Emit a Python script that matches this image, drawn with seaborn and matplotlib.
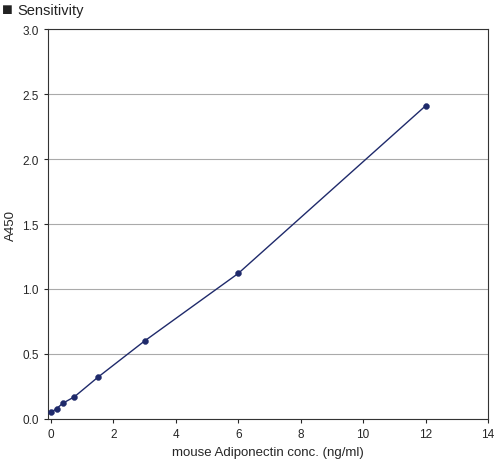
import matplotlib
matplotlib.use("Agg")
import matplotlib.pyplot as plt
import seaborn as sns
import pandas as pd

conc = [0, 0.1875, 0.375, 0.75, 1.5, 3, 6, 12]
a450 = [0.05, 0.08, 0.12, 0.17, 0.32, 0.60, 1.12, 2.41]
df = pd.DataFrame({"conc": conc, "a450": a450})

sns.set_style("white")
plt.rcParams['font.family'] = ['Liberation Sans', 'DejaVu Sans']
fig = plt.figure(figsize=(4.98, 4.64), dpi=100)
ax = fig.add_axes([0.096, 0.095, 0.884, 0.84])
color = "#1f2a6b"
sns.lineplot(data=df, x="conc", y="a450", color=color, lw=1, ax=ax)
sns.scatterplot(data=df, x="conc", y="a450", color=color, s=18, edgecolor=color, ax=ax, zorder=3)
ax.set_xlim(-0.1, 14)
ax.set_ylim(0, 3.0)
ax.set_xticks(range(0, 15, 2))
ax.set_yticks([0, 0.5, 1.0, 1.5, 2.0, 2.5, 3.0])
ax.set_yticklabels(["0.0", "0.5", "1.0", "1.5", "2.0", "2.5", "3.0"])
ax.yaxis.grid(True, color="#aaaaaa", lw=0.8)
for s in ax.spines.values():
    s.set_color("#333333"); s.set_linewidth(0.8)
ax.tick_params(labelsize=8.5, length=3, direction="out", bottom=True, left=True)
ax.set_xlabel("mouse Adiponectin conc. (ng/ml)", fontsize=9.5)
ax.set_ylabel("A450", fontsize=9.5)
fig.text(0.003, 0.977, "■", fontsize=13, va="center", ha="left", color="#222222")
fig.text(0.035, 0.977, "Sensitivity", fontsize=10.5, va="center", ha="left", color="#222222")
fig.savefig("out.png", dpi=100)
